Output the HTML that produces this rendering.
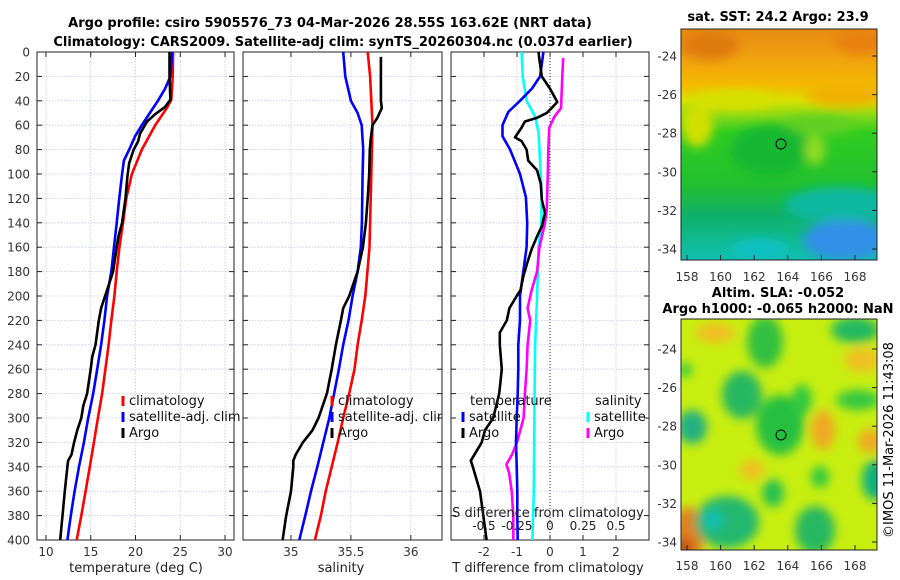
<!DOCTYPE html>
<html><head><meta charset="utf-8">
<style>
html,body{margin:0;padding:0;background:#fff;}
svg{display:block;font-family:"DejaVu Sans","Liberation Sans",sans-serif;}
</style></head>
<body>
<svg id="fig" width="900" height="580" viewBox="0 0 900 580" xmlns="http://www.w3.org/2000/svg">
<defs>
<filter id="blur1" x="-20%" y="-20%" width="140%" height="140%"><feGaussianBlur stdDeviation="5"/></filter>
<filter id="blur2" x="-20%" y="-20%" width="140%" height="140%"><feGaussianBlur stdDeviation="5"/></filter>
<clipPath id="clipMap1"><rect x="681" y="29" width="196" height="231"/></clipPath>
<clipPath id="clipMap2"><rect x="681" y="319" width="196" height="231"/></clipPath>
<clipPath id="clipP1"><rect x="37" y="52" width="197" height="488"/></clipPath>
<clipPath id="clipP2"><rect x="243" y="52" width="199" height="488"/></clipPath>
<clipPath id="clipP3"><rect x="451" y="52" width="198" height="488"/></clipPath>
<clipPath id="clipLeg2"><rect x="243" y="52" width="199" height="488"/></clipPath>
<linearGradient id="sstg" x1="0" y1="0" x2="0" y2="1">
<stop offset="0" stop-color="#e88a10"/><stop offset="0.12" stop-color="#f0a010"/><stop offset="0.24" stop-color="#f5b800"/>
<stop offset="0.31" stop-color="#d8e000"/><stop offset="0.38" stop-color="#80d818"/><stop offset="0.45" stop-color="#30cc20"/>
<stop offset="0.68" stop-color="#20c030"/><stop offset="0.80" stop-color="#10b068"/><stop offset="1" stop-color="#10c0b0"/>
</linearGradient>
</defs>

<text x="330" y="27" text-anchor="middle" font-weight="bold" font-size="13">Argo profile: csiro 5905576_73 04-Mar-2026 28.55S 163.62E (NRT data)</text>
<text x="343" y="46" text-anchor="middle" font-weight="bold" font-size="13">Climatology: CARS2009. Satellite-adj clim: synTS_20260304.nc (0.037d earlier)</text>

<g>
<text x="778" y="21" text-anchor="middle" font-weight="bold" font-size="13">sat. SST: 24.2 Argo: 23.9</text>
<g clip-path="url(#clipMap1)">
<rect x="681" y="29" width="196" height="231" fill="url(#sstg)"/>
<g filter="url(#blur1)">
<ellipse cx="697" cy="125" rx="16" ry="22" fill="#d0e000"/>
<ellipse cx="735" cy="100" rx="40" ry="10" fill="#d8e000"/>
<ellipse cx="845" cy="95" rx="40" ry="12" fill="#f0b000"/>
<ellipse cx="820" cy="125" rx="35" ry="10" fill="#60d020"/>
<ellipse cx="770" cy="150" rx="40" ry="25" fill="#18b830"/>
<ellipse cx="815" cy="150" rx="10" ry="15" fill="#90dc20"/>
<ellipse cx="840" cy="205" rx="55" ry="18" fill="#10b8a0"/>
<ellipse cx="845" cy="240" rx="42" ry="20" fill="#3090e8"/>
<ellipse cx="760" cy="250" rx="30" ry="12" fill="#10c0c0"/>
<ellipse cx="710" cy="45" rx="30" ry="15" fill="#e07c10"/>
<ellipse cx="860" cy="42" rx="25" ry="12" fill="#e88010"/>
</g>
</g>
<rect x="681" y="29" width="196" height="231" fill="none" stroke="#222" stroke-width="1"/>
<circle cx="781" cy="144" r="5" fill="none" stroke="#000" stroke-width="1"/>
</g>

<g>
<text x="778" y="297" text-anchor="middle" font-weight="bold" font-size="13">Altim. SLA: -0.052</text>
<text x="778" y="313" text-anchor="middle" font-weight="bold" font-size="13">Argo h1000: -0.065 h2000: NaN</text>
<g clip-path="url(#clipMap2)">
<rect x="681" y="319" width="196" height="231" fill="#c8ee10"/>
<g filter="url(#blur2)">
<ellipse cx="715" cy="333" rx="20" ry="10" fill="#f0c020"/>
<ellipse cx="823" cy="430" rx="12" ry="20" fill="#f0a820"/>
<ellipse cx="870" cy="441" rx="12" ry="12" fill="#f0a820"/>
<ellipse cx="862" cy="360" rx="18" ry="12" fill="#f0c020"/>
<ellipse cx="752" cy="470" rx="12" ry="10" fill="#f0c020"/>
<ellipse cx="688" cy="535" rx="16" ry="28" fill="#e08020"/>
<ellipse cx="684" cy="548" rx="8" ry="10" fill="#c04a10"/>
<ellipse cx="765" cy="342" rx="18" ry="26" fill="#30c040"/>
<ellipse cx="742" cy="395" rx="20" ry="24" fill="#28b860"/>
<ellipse cx="780" cy="425" rx="24" ry="30" fill="#28c040"/>
<ellipse cx="802" cy="400" rx="10" ry="16" fill="#30c840"/>
<ellipse cx="692" cy="427" rx="15" ry="17" fill="#20b080"/>
<ellipse cx="855" cy="330" rx="24" ry="13" fill="#20b860"/>
<ellipse cx="858" cy="400" rx="22" ry="10" fill="#30c840"/>
<ellipse cx="875" cy="480" rx="13" ry="20" fill="#10b080"/>
<ellipse cx="820" cy="477" rx="9" ry="11" fill="#30c840"/>
<ellipse cx="773" cy="493" rx="11" ry="14" fill="#28c050"/>
<ellipse cx="727" cy="522" rx="32" ry="26" fill="#20b870"/>
<ellipse cx="713" cy="520" rx="10" ry="10" fill="#18c0b0"/>
<ellipse cx="815" cy="530" rx="20" ry="24" fill="#28b860"/>
<ellipse cx="685" cy="370" rx="7" ry="7" fill="#30c840"/>
</g>
</g>
<rect x="681" y="319" width="196" height="231" fill="none" stroke="#222" stroke-width="1"/>
<circle cx="781" cy="435" r="5" fill="none" stroke="#000" stroke-width="1"/>
</g>

<text transform="translate(893,440) rotate(-90)" text-anchor="middle" font-size="13">©IMOS 11-Mar-2026 11:43:08</text>

<g id="plots"></g>
</svg>

<script>
// ---------- data ----------
const depthTicks = [0,20,40,60,80,100,120,140,160,180,200,220,240,260,280,300,320,340,360,380,400];
const tempTicks = [10,15,20,25,30];
const salTicks = [35,35.5,36];
const salTickLabels = ["35","35.5","36"];
const tdiffTicks = [-2,-1,0,1,2];
const sdiffTicks = [-0.5,-0.25,0,0.25,0.5];
const sdiffTickLabels = ["-0.5","-0.25","0","0.25","0.5"];

const climTDepth = [0,20,39,46,60,80,100,119,140,160,180,200,220,240,260,280,300,320,340,360,380,400];
const climTValue = [24.2,24.15,24.0,23.5,22.2,20.7,19.6,19.0,18.6,18.2,17.9,17.64,17.3,17.0,16.64,16.27,15.8,15.35,14.9,14.43,13.95,13.43];
const satTDepth = [0,20,30,40,50,60,69,80,89,100,119,140,160,180,200,220,240,260,280,300,320,340,360,380,400];
const satTValue = [24.1,23.9,23.3,22.5,21.6,20.7,19.96,19.3,18.7,18.5,18.2,17.9,17.6,17.3,16.83,16.53,16.16,15.72,15.28,14.72,14.24,13.69,13.2,12.77,12.4];
const argoTDepth = [0,20,39,45,51,57,67,73,80,91,102,119,140,151,160,180,200,210,220,240,250,260,280,290,300,310,320,330,335,340,360,380,400];
const argoTValue = [23.8,23.8,23.9,23.3,22.2,21.3,20.5,20.3,19.8,19.3,19.1,18.9,18.5,18.1,17.9,17.5,16.6,16.16,15.9,15.53,15.17,15.0,14.6,14.17,13.95,13.5,13.14,12.85,12.47,12.4,12.1,11.85,11.59];

const climSDepth = [0,20,60,100,160,200,220,240,260,280,300,320,340,360,380,400];
const climSValue = [35.64,35.66,35.68,35.67,35.655,35.62,35.59,35.556,35.53,35.486,35.436,35.39,35.34,35.29,35.25,35.2];
const satSDepth = [0,20,40,50,60,80,100,140,160,180,200,220,240,260,280,300,320,340,360,380,400];
const satSValue = [35.436,35.453,35.5,35.556,35.59,35.603,35.598,35.592,35.583,35.556,35.514,35.48,35.436,35.4,35.36,35.32,35.27,35.22,35.167,35.12,35.07];
const argoSDepth = [4,40,46,54,60,70,80,100,120,140,160,180,200,210,220,240,260,280,290,300,310,320,330,335,340,360,380,400];
const argoSValue = [35.75,35.75,35.758,35.72,35.68,35.667,35.658,35.653,35.64,35.625,35.6,35.556,35.486,35.436,35.417,35.375,35.34,35.3,35.265,35.23,35.18,35.1,35.04,35.02,35.02,35.0,34.96,34.93];

const satTDiffDepth = [0,20,30,40,49,60,69,80,100,119,140,160,180,200,220,240,260,280,300,320,340,360,380,400];
const satTDiffValue = [-0.2,-0.3,-0.55,-0.91,-1.26,-1.44,-1.44,-1.21,-0.91,-0.73,-0.69,-0.71,-0.81,-0.91,-0.91,-0.96,-0.96,-0.98,-1.01,-1.03,-1.01,-0.99,-0.99,-0.98];
const argoTDiffDepth = [0,6,20,30,41,46,50,54,57,62,70,73,80,89,97,108,121,132,143,151,162,173,184,195,200,210,220,230,240,260,280,300,310,320,335,340,360,380,400];
const argoTDiffValue = [-0.35,-0.32,-0.25,0,0.22,0.05,-0.1,-0.4,-0.76,-0.86,-1.06,-0.86,-0.71,-0.66,-0.39,-0.28,-0.25,-0.15,-0.25,-0.39,-0.56,-0.69,-0.81,-0.89,-1.01,-1.23,-1.31,-1.52,-1.52,-1.46,-1.54,-1.72,-1.97,-2.07,-2.4,-2.34,-2.12,-2.02,-1.92];
const satSDiffDepth = [0,20,40,53,66,80,100,120,140,160,200,240,280,320,360,400];
const satSDiffValue = [-0.215,-0.207,-0.177,-0.112,-0.087,-0.08,-0.07,-0.063,-0.066,-0.087,-0.098,-0.113,-0.117,-0.12,-0.123,-0.133];
const argoSDiffDepth = [5,20,46,53,62,80,100,130,140,160,180,195,210,220,240,260,280,300,320,330,338,345,360,380,400];
const argoSDiffValue = [0.1,0.093,0.083,0.033,-0.005,-0.013,-0.017,-0.025,-0.038,-0.08,-0.098,-0.139,-0.17,-0.15,-0.17,-0.177,-0.19,-0.2,-0.25,-0.288,-0.33,-0.31,-0.29,-0.278,-0.278];

const lonTicks = [158,160,162,164,166,168];
const latTicks = [-24,-26,-28,-30,-32,-34];

// ---------- drawing ----------
const NS = "http://www.w3.org/2000/svg";
const root = document.getElementById('plots');
function mk(tag, attrs, parent){
  const e = document.createElementNS(NS, tag);
  for (const k in attrs) e.setAttribute(k, attrs[k]);
  (parent||root).appendChild(e);
  return e;
}
const TOP = 52, BOT = 540;
function yD(d){ return TOP + (d/400)*(BOT-TOP); }

function panel(name, x0, x1, xmin, xmax, ticks, tickLabels, clip){
  const g = mk('g', {});
  
  
  const sx = v => x0 + (v - xmin)/(xmax - xmin)*(x1 - x0);
  depthTicks.forEach(d => {
    const l = mk('line', {x1:x0, x2:x1, y1:yD(d), y2:yD(d), stroke:'#c4c8e6', 'stroke-width':0.8, 'stroke-dasharray':'1.5,1.5'}, g);
    
    
    [x0, x1].forEach(xx => {
      const t = mk('line', {x1:xx, x2: xx===x0 ? xx+5 : xx-5, y1:yD(d), y2:yD(d), stroke:'#222', 'stroke-width':1}, g);
      
      
    });
  });
  ticks.forEach((v,i) => {
    const x = sx(v);
    const l = mk('line', {x1:x, x2:x, y1:TOP, y2:BOT, stroke:'#c4c8e6', 'stroke-width':0.8, 'stroke-dasharray':'1.5,1.5'}, g);
    
    
    const t1 = mk('line', {x1:x, x2:x, y1:BOT, y2:BOT-5, stroke:'#222'}, g);
    
    
    const t2 = mk('line', {x1:x, x2:x, y1:TOP, y2:TOP+5, stroke:'#222'}, g);
    
    
    const tx = mk('text', {x:x, y:556, 'text-anchor':'middle', 'font-size':12, fill:'#333'}, g);
    tx.textContent = tickLabels[i];
    
    
  });
  const box = mk('rect', {x:x0, y:TOP, width:x1-x0, height:BOT-TOP, fill:'none', stroke:'#222', 'stroke-width':1}, g);
  
  
  const lines = mk('g', {'clip-path':'url(#'+clip+')'}, g);
  return {g, sx, lines};
}
function series(p, depths, vals, color, name, scale){
  scale = scale || 1;
  const pts = depths.map((d,i) => p.sx(vals[i]*scale).toFixed(1)+','+yD(d).toFixed(1)).join(' ');
  const pl = mk('polyline', {points:pts, fill:'none', stroke:color, 'stroke-width':2.6, 'stroke-linejoin':'round'}, p.lines);
  
  
}
function legendEntry(parent, x, y, color, label, name){
  const m = mk('line', {x1:x, x2:x, y1:y-9, y2:y+1, stroke:color, 'stroke-width':3}, parent);
  
  
  const t = mk('text', {x:x+6, y:y, 'font-size':13, fill:'#111'}, parent);
  t.textContent = label;
  
  
}

depthTicks.forEach(d => {
  const t = mk('text', {x:30, y:yD(d)+4.5, 'text-anchor':'end', 'font-size':12, fill:'#333'});
  t.textContent = d;
  
  
});

const p1 = panel('temperature-panel', 37, 234, 9, 31, tempTicks, tempTicks.map(String), 'clipP1');
series(p1, climTDepth, climTValue, '#ff0000', 'climatology-temperature-line');
series(p1, satTDepth, satTValue, '#0000ff', 'satellite-temperature-line');
series(p1, argoTDepth, argoTValue, '#000000', 'argo-temperature-line');
const xl1 = mk('text', {x:136, y:572, 'text-anchor':'middle', 'font-size':13, fill:'#222'});
xl1.textContent = 'temperature (deg C)';


const lg1 = mk('g', {});


legendEntry(lg1, 123, 405, '#ff0000', 'climatology', 'legend-climatology');
legendEntry(lg1, 123, 421, '#0000ff', 'satellite-adj. clim', 'legend-satellite-adj');
legendEntry(lg1, 123, 437, '#000000', 'Argo', 'legend-argo');

const p2 = panel('salinity-panel', 243, 442, 34.6, 36.26, salTicks, salTickLabels, 'clipP2');
series(p2, climSDepth, climSValue, '#ff0000', 'climatology-salinity-line');
series(p2, satSDepth, satSValue, '#0000ff', 'satellite-salinity-line');
series(p2, argoSDepth, argoSValue, '#000000', 'argo-salinity-line');
const xl2 = mk('text', {x:341, y:572, 'text-anchor':'middle', 'font-size':13, fill:'#222'});
xl2.textContent = 'salinity';


const lg2 = mk('g', {'clip-path':'url(#clipLeg2)'});


legendEntry(lg2, 332, 405, '#ff0000', 'climatology', 'legend-climatology');
legendEntry(lg2, 332, 421, '#0000ff', 'satellite-adj. clim', 'legend-satellite-adj');
legendEntry(lg2, 332, 437, '#000000', 'Argo', 'legend-argo');

const p3 = panel('difference-panel', 451, 649, -3, 3, tdiffTicks, tdiffTicks.map(String), 'clipP3');
const zx = p3.sx(0);
const zl = mk('line', {x1:zx, x2:zx, y1:TOP, y2:BOT, stroke:'#333', 'stroke-width':1, 'stroke-dasharray':'1,2'}, p3.lines);


series(p3, satSDiffDepth, satSDiffValue, '#00ffff', 'satellite-salinity-diff-line', 4);
series(p3, argoSDiffDepth, argoSDiffValue, '#ff00ff', 'argo-salinity-diff-line', 4);
series(p3, satTDiffDepth, satTDiffValue, '#0000ff', 'satellite-temperature-diff-line');
series(p3, argoTDiffDepth, argoTDiffValue, '#000000', 'argo-temperature-diff-line');
sdiffTicks.forEach((v,i) => {
  const t = mk('text', {x:p3.sx(v*4), y:530, 'text-anchor':'middle', 'font-size':12, fill:'#222'});
  t.textContent = sdiffTickLabels[i];
  
  
});
const st = mk('text', {x:548, y:517, 'text-anchor':'middle', 'font-size':13, fill:'#222'});
st.textContent = 'S difference from climatology';


const xl3 = mk('text', {x:548, y:572, 'text-anchor':'middle', 'font-size':13, fill:'#222'});
xl3.textContent = 'T difference from climatology';


const lg3 = mk('g', {});


const lh1 = mk('text', {x:470, y:405, 'font-size':13, fill:'#111'}, lg3);
lh1.textContent = 'temperature';


const lh2 = mk('text', {x:595, y:405, 'font-size':13, fill:'#111'}, lg3);
lh2.textContent = 'salinity';


legendEntry(lg3, 463, 421, '#0000ff', 'satellite', 'legend-t-satellite');
legendEntry(lg3, 463, 437, '#000000', 'Argo', 'legend-t-argo');
legendEntry(lg3, 588, 421, '#00ffff', 'satellite', 'legend-s-satellite');
legendEntry(lg3, 588, 437, '#ff00ff', 'Argo', 'legend-s-argo');

function mapTicks(y0, y24, labY){
  lonTicks.forEach(v => {
    const x = 687 + (v-158)*16.8;
    const t = mk('text', {x:x, y:labY, 'text-anchor':'middle', 'font-size':12, fill:'#333'});
    t.textContent = v;
    
    
    const k = mk('line', {x1:x, x2:x, y1:y0+231, y2:y0+226, stroke:'#222'});
    
    
  });
  latTicks.forEach(v => {
    const y = y24 + (-24 - v)*19.3;
    const t = mk('text', {x:677, y:y+4.5, 'text-anchor':'end', 'font-size':12, fill:'#333'});
    t.textContent = v;
    
    
    const k = mk('line', {x1:877, x2:872, y1:y, y2:y, stroke:'#222'});
    
    
  });
}
mapTicks(29, 56, 281);
mapTicks(319, 349, 570);
</script>
</body></html>
